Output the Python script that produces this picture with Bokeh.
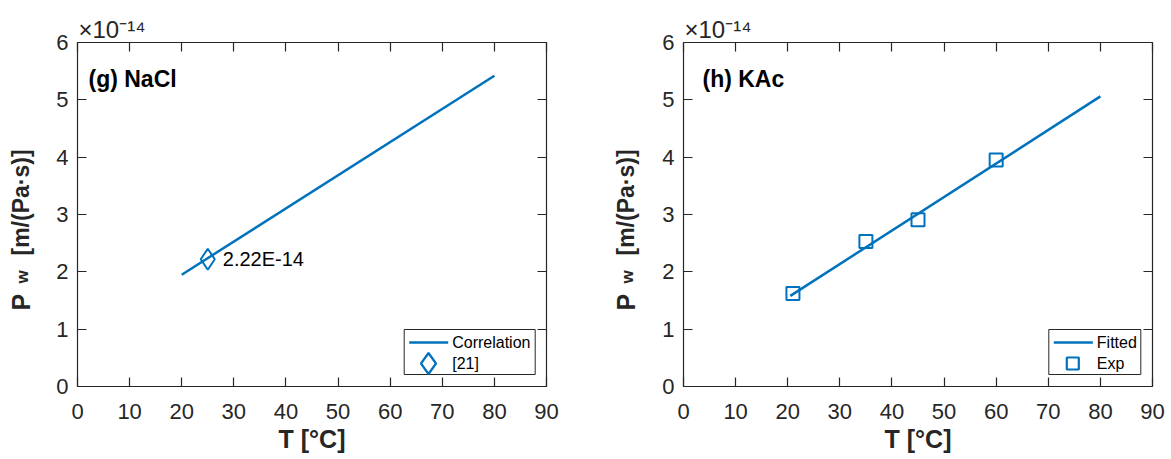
import math
from bokeh.plotting import figure
from bokeh.layouts import row
from bokeh.models import (Range1d, LinearAxis, FixedTicker, CustomJSTickFormatter, Label,
                          BoxAnnotation, PolyAnnotation, Arrow, ColumnDataSource)
from bokeh.core.properties import value
from bokeh.embed import file_html
from bokeh.resources import INLINE

# ---------------- data (P_w in units of 1e-14 m/(Pa·s)) ----------------
x_ticks = [0, 10, 20, 30, 40, 50, 60, 70, 80, 90]
y_ticks = [0, 1, 2, 3, 4, 5, 6]

nacl_corr_T = [20, 80]
nacl_corr_P = [1.95, 5.42]
nacl_ref_T = [25]
nacl_ref_P = [2.22]
nacl_ref_text = ["2.22E-14"]

kac_fit_T = [20.5, 80]
kac_fit_P = [1.58, 5.06]
kac_exp_T = [21, 35, 45, 60]
kac_exp_P = [1.62, 2.53, 2.91, 3.95]

BLUE = "#0072BD"
AX = "#262626"
FONT = "Liberation Sans"


def style_axis(ax, show_labels=True, standoff=9):
    ax.major_tick_in = 9
    ax.major_tick_out = 0
    ax.minor_tick_line_color = None
    ax.axis_line_color = AX
    ax.axis_line_width = 1.2
    ax.major_tick_line_color = AX
    ax.major_tick_line_width = 1.2
    ax.major_label_text_font = FONT
    ax.major_label_text_font_size = "22px"
    ax.major_label_text_color = AX
    ax.major_label_standoff = standoff
    if not show_labels:
        ax.formatter = CustomJSTickFormatter(code="return ''")
        ax.major_label_text_font_size = "0px"
        ax.major_label_standoff = 0


def ylabel_fig(width, bx):
    """narrow strip that carries the rotated y-axis title P_w [m/(Pa·s)]"""
    f = figure(width=width, height=459, x_range=Range1d(0, width), y_range=Range1d(0, 459),
               output_backend="svg", toolbar_location=None, title=None,
               x_axis_type=None, y_axis_type=None, min_border=0)
    f.outline_line_color = None
    f.xgrid.visible = False
    f.ygrid.visible = False
    # y positions are measured from the (row-aligned) frame bottom
    for txt, x, y, fs in [("P", bx, 76, "25px"), ("w", bx + 2, 103, "17px"),
                          ("[m/(Pa·s)]", bx, 131, "23px")]:
        f.add_layout(Label(x=x, y=y, x_units="screen", y_units="screen", text=txt,
                           angle=math.pi / 2, text_font=FONT, text_font_size=fs,
                           text_font_style="bold", text_color=AX,
                           text_align="left", text_baseline="alphabetic"))
    return f


def make_panel(width, left, right, title, title_x):
    p = figure(width=width, height=459, x_range=Range1d(0, 90), y_range=Range1d(0, 6),
               output_backend="svg", toolbar_location=None,
               min_border_left=left, min_border_right=right,
               min_border_top=42, min_border_bottom=73)
    p.outline_line_color = None
    p.xgrid.visible = False
    p.ygrid.visible = False

    p.xaxis.ticker = FixedTicker(ticks=x_ticks)
    p.yaxis.ticker = FixedTicker(ticks=y_ticks)
    style_axis(p.xaxis[0], True, 17)
    style_axis(p.yaxis[0], True, 9)
    p.xaxis.axis_label = "T [°C]"
    p.xaxis.axis_label_text_font = FONT
    p.xaxis.axis_label_text_font_size = "25px"
    p.xaxis.axis_label_text_font_style = "bold"
    p.xaxis.axis_label_text_color = AX
    p.xaxis.axis_label_standoff = 3

    top = LinearAxis(ticker=FixedTicker(ticks=x_ticks))
    style_axis(top, False)
    p.add_layout(top, "above")
    rgt = LinearAxis(ticker=FixedTicker(ticks=y_ticks))
    style_axis(rgt, False)
    p.add_layout(rgt, "right")

    # exponent multiplier of the y axis
    p.title.text = "×10⁻¹⁴"
    p.title.align = "left"
    p.title.offset = 1
    p.title.standoff = 0
    p.title.text_font = FONT
    p.title.text_font_size = "24px"
    p.title.text_font_style = "normal"
    p.title.text_color = AX

    # panel title
    p.add_layout(Label(x=title_x, y=308, x_units="screen", y_units="screen", text=title,
                       text_font=FONT, text_font_size="23px", text_font_style="bold",
                       text_color="black", text_baseline="alphabetic"))
    return p


def add_legend(p, left, right, line_label, mark_label, marker_pts):
    p.add_layout(BoxAnnotation(left=left, right=right, bottom=12, top=57,
                               left_units="screen", right_units="screen",
                               bottom_units="screen", top_units="screen",
                               fill_color="white", fill_alpha=1.0,
                               line_color=AX, line_width=1, line_alpha=1.0))
    p.add_layout(Arrow(x_start=left + 5, y_start=44, x_end=left + 44, y_end=44,
                       start_units="screen", end_units="screen", end=None,
                       line_color=BLUE, line_width=2.5))
    xs, ys = marker_pts
    p.add_layout(PolyAnnotation(xs=xs, ys=ys, xs_units="screen", ys_units="screen",
                                fill_alpha=0, line_color=BLUE, line_alpha=1.0,
                                line_width=2.2))
    for txt, y in [(line_label, 44), (mark_label, 23)]:
        p.add_layout(Label(x=left + 48, y=y, x_units="screen", y_units="screen", text=txt,
                           text_font=FONT, text_font_size="16px", text_color="black",
                           text_baseline="middle"))


# ---------------- left panel: NaCl ----------------
l1 = ylabel_fig(40, 20)
p1 = make_panel(545, 37, 39, "(g) NaCl", 11)
p1.line(nacl_corr_T, nacl_corr_P, line_color=BLUE, line_width=2.5)
src1 = ColumnDataSource(dict(T=nacl_ref_T, P=nacl_ref_P, t=nacl_ref_text))
p1.scatter("T", "P", source=src1, marker="diamond", size=21, fill_alpha=0,
           line_color=BLUE, line_width=2)
p1.text("T", "P", text="t", source=src1, x_offset=15, text_baseline="middle",
        text_font=value(FONT), text_font_size=value("20px"), text_color="black")
cx, cy = 351.0, 23
add_legend(p1, 326.7, 457.7, "Correlation", "[21]",
           ([cx, cx + 7.5, cx, cx - 7.5], [cy + 10.5, cy, cy - 10.5, cy]))

# ---------------- right panel: KAc ----------------
l2 = ylabel_fig(60, 40)
p2 = make_panel(526, 38, 19, "(h) KAc", 19)
p2.line(kac_fit_T, kac_fit_P, line_color=BLUE, line_width=2.5)
p2.scatter(kac_exp_T, kac_exp_P, marker="square", size=13, fill_alpha=0,
           line_color=BLUE, line_width=2)
cx2 = 389.3
add_legend(p2, 365.3, 457.3, "Fitted", "Exp",
           ([cx2 - 6, cx2 + 6, cx2 + 6, cx2 - 6], [cy + 6, cy + 6, cy - 6, cy - 6]))

layout = row(l1, p1, l2, p2)
open("out.html", "w").write(file_html(layout, INLINE))
